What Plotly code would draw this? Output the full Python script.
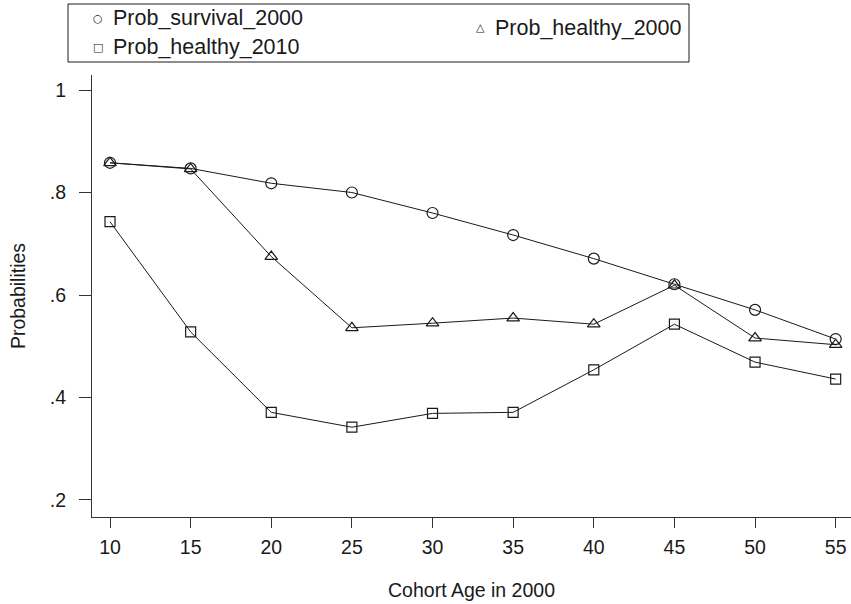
import plotly.graph_objects as go

ages = [10, 15, 20, 25, 30, 35, 40, 45, 50, 55]
prob_survival_2000 = [0.858, 0.847, 0.818, 0.800, 0.760, 0.717, 0.671, 0.621, 0.571, 0.514]
prob_healthy_2000 = [0.858, 0.846, 0.675, 0.536, 0.545, 0.555, 0.543, 0.619, 0.516, 0.503]
prob_healthy_2010 = [0.743, 0.528, 0.371, 0.342, 0.369, 0.371, 0.454, 0.543, 0.469, 0.436]
y_ticks = [0.2, 0.4, 0.6, 0.8, 1.0]
y_tick_labels = [".2", ".4", ".6", ".8", "1"]
x_ticks = [10, 15, 20, 25, 30, 35, 40, 45, 50, 55]
legend_names = ["Prob_survival_2000", "Prob_healthy_2010", "Prob_healthy_2000"]
legend_glyphs = ["\u25cb", "\u25a1", "\u25b3"]

INK = "#1a1a1a"
FONT = "Liberation Sans"
FS = 19.5
W, H = 851, 604
ML, MR, MT, MB = 92, 0, 75, 87
PW, PH = W - ML - MR, H - MT - MB


def px_x(p):
    return (p - ML) / PW


def px_y(p):
    return (H - MB - p) / PH


fig = go.Figure()
line = dict(color=INK, width=1)
series = [
    (prob_survival_2000, "circle-open", 11, legend_names[0]),
    (prob_healthy_2010, "square-open", 10, legend_names[1]),
    (prob_healthy_2000, "triangle-up-open", 11, legend_names[2]),
]
for vals, sym, size, name in series:
    fig.add_trace(go.Scatter(x=ages, y=vals, mode="lines+markers", name=name, showlegend=False,
                             line=line, marker=dict(symbol=sym, size=size, color=INK, line=dict(width=1.2))))

# Legend (Stata style): glyph + label inside a framed box
legend_pos = [(98, 18), (98, 47), (480, 28)]
annotations = []
for (gx, gy), glyph, name in zip(legend_pos, legend_glyphs, legend_names):
    annotations.append(dict(xref="paper", yref="paper", x=px_x(gx), y=px_y(gy), text=glyph,
                            showarrow=False, xanchor="center", yanchor="middle",
                            font=dict(family="DejaVu Sans", size=11, color=INK)))
    annotations.append(dict(xref="paper", yref="paper", x=px_x(gx + 13), y=px_y(gy), text=name,
                            showarrow=False, xanchor="left", yanchor="middle",
                            font=dict(family=FONT, size=21.5, color=INK)))

fig.update_layout(
    width=W, height=H,
    margin=dict(l=ML, r=MR, t=MT, b=MB, autoexpand=False),
    paper_bgcolor="white", plot_bgcolor="white",
    font=dict(family=FONT, size=FS, color=INK),
    showlegend=False,
    annotations=annotations,
    shapes=[dict(type="rect", xref="paper", yref="paper",
                 x0=px_x(68), x1=px_x(689), y0=px_y(62), y1=px_y(4),
                 line=dict(color=INK, width=1))],
    xaxis=dict(range=[8.884, 55.95], tickmode="array", tickvals=x_ticks, automargin=True,
               showline=True, linecolor="#333", linewidth=1, mirror=False,
               ticks="outside", ticklen=10, tickcolor="#333", showgrid=False, zeroline=False,
               tickfont=dict(family=FONT, size=FS, color=INK), ticklabelstandoff=3,
               title=dict(text="Cohort Age in 2000", font=dict(family=FONT, size=FS, color=INK),
                          standoff=25)),
    yaxis=dict(range=[0.1668, 1.0293], tickmode="array", tickvals=y_ticks, ticktext=y_tick_labels,
               automargin=True,
               showline=True, linecolor="#333", linewidth=1, mirror=False,
               ticks="outside", ticklen=12, tickcolor="#333", showgrid=False, zeroline=False,
               tickfont=dict(family=FONT, size=FS, color=INK), ticklabelstandoff=9,
               title=dict(text="Probabilities", font=dict(family=FONT, size=FS, color=INK),
                          standoff=19)),
)

fig.write_html("out.html", config={"displayModeBar": False},
               post_script="document.body.style.margin='0';")
